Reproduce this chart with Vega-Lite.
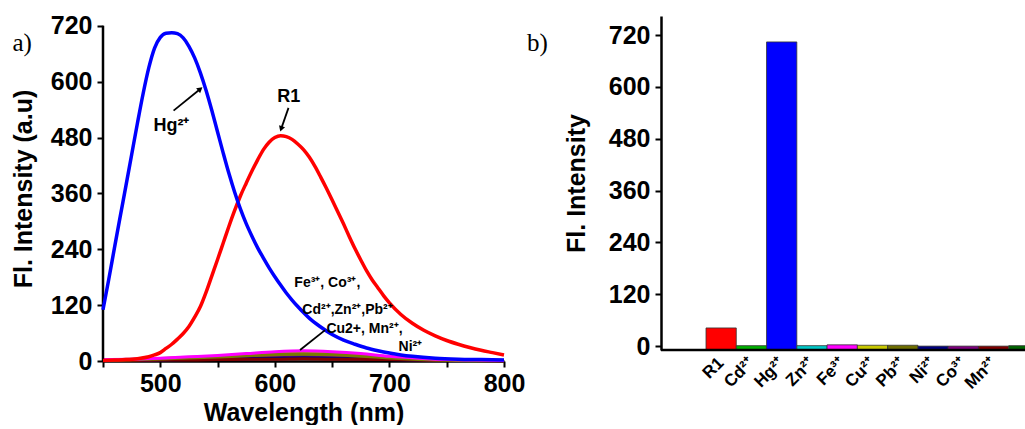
{
  "$schema": "https://vega.github.io/schema/vega-lite/v6.json",
  "background": "white",
  "padding": {"left": 11, "top": 13, "right": 0, "bottom": 0},
  "spacing": 16,
  "resolve": {"scale": {"color": "independent"}},
  "config": {
    "view": {"stroke": null},
    "font": "Liberation Sans",
    "axis": {
      "labelFont": "Liberation Sans", "titleFont": "Liberation Sans",
      "labelFontWeight": "bold", "titleFontWeight": "bold",
      "labelColor": "black", "titleColor": "black",
      "domainColor": "black", "domainWidth": 2.5,
      "tickColor": "black", "tickWidth": 2, "tickSize": 6,
      "grid": false, "labelOverlap": false, "labelFlush": false
    }
  },
  "datasets": {
    "hg": [
      {"nm":450,"v":110},{"nm":455,"v":175},{"nm":460,"v":243},{"nm":465,"v":310},{"nm":470,"v":376},{"nm":475,"v":443},{"nm":480,"v":510},{"nm":485,"v":574},{"nm":490,"v":630},{"nm":495,"v":672},{"nm":500,"v":695},{"nm":505,"v":704},{"nm":510,"v":705},{"nm":515,"v":703},{"nm":520,"v":694},{"nm":525,"v":676},{"nm":530,"v":651},{"nm":535,"v":619},{"nm":540,"v":581},{"nm":545,"v":538},{"nm":550,"v":492},{"nm":555,"v":446},{"nm":560,"v":402},{"nm":565,"v":362},{"nm":570,"v":326},{"nm":575,"v":295},{"nm":580,"v":268},{"nm":585,"v":243},{"nm":590,"v":221},{"nm":595,"v":200},{"nm":600,"v":181},{"nm":605,"v":163},{"nm":610,"v":146},{"nm":615,"v":131},{"nm":620,"v":117},{"nm":625,"v":104},{"nm":630,"v":92},{"nm":640,"v":73},{"nm":650,"v":57},{"nm":660,"v":45},{"nm":670,"v":36},{"nm":680,"v":28},{"nm":690,"v":22},{"nm":700,"v":17},{"nm":710,"v":13},{"nm":720,"v":10},{"nm":740,"v":6},{"nm":760,"v":4},{"nm":780,"v":3},{"nm":800,"v":2}
    ],
    "r1": [
      {"nm":450,"v":1},{"nm":460,"v":2},{"nm":470,"v":3},{"nm":480,"v":5},{"nm":490,"v":9},{"nm":495,"v":13},{"nm":500,"v":18},{"nm":505,"v":27},{"nm":510,"v":36},{"nm":515,"v":47},{"nm":520,"v":59},{"nm":525,"v":74},{"nm":530,"v":94},{"nm":535,"v":117},{"nm":540,"v":148},{"nm":545,"v":183},{"nm":550,"v":218},{"nm":555,"v":254},{"nm":560,"v":290},{"nm":565,"v":324},{"nm":570,"v":355},{"nm":575,"v":382},{"nm":580,"v":408},{"nm":585,"v":432},{"nm":590,"v":454},{"nm":595,"v":470},{"nm":600,"v":480},{"nm":605,"v":484},{"nm":610,"v":482},{"nm":615,"v":476},{"nm":620,"v":466},{"nm":625,"v":454},{"nm":630,"v":438},{"nm":635,"v":418},{"nm":640,"v":395},{"nm":645,"v":371},{"nm":650,"v":346},{"nm":655,"v":320},{"nm":660,"v":294},{"nm":665,"v":267},{"nm":670,"v":241},{"nm":675,"v":217},{"nm":680,"v":194},{"nm":685,"v":174},{"nm":690,"v":157},{"nm":695,"v":140},{"nm":700,"v":125},{"nm":710,"v":100},{"nm":720,"v":81},{"nm":730,"v":66},{"nm":740,"v":54},{"nm":750,"v":44},{"nm":760,"v":36},{"nm":770,"v":29},{"nm":780,"v":23},{"nm":790,"v":18},{"nm":800,"v":13}
    ],
    "fe": [
      {"nm":450,"v":3},{"nm":475,"v":4},{"nm":500,"v":6},{"nm":525,"v":9},{"nm":550,"v":12},{"nm":575,"v":16},{"nm":600,"v":20},{"nm":625,"v":22},{"nm":650,"v":20},{"nm":675,"v":16},{"nm":700,"v":10},{"nm":725,"v":6},{"nm":750,"v":3},{"nm":775,"v":2},{"nm":800,"v":1}
    ],
    "pb": [
      {"nm":450,"v":2},{"nm":475,"v":3},{"nm":500,"v":5},{"nm":525,"v":7},{"nm":550,"v":9},{"nm":575,"v":12},{"nm":600,"v":14},{"nm":625,"v":15},{"nm":650,"v":14},{"nm":675,"v":11},{"nm":700,"v":7},{"nm":725,"v":4},{"nm":750,"v":2},{"nm":775,"v":1},{"nm":800,"v":1}
    ],
    "others": [
      {"ion":"Cu","nm":450,"v":2},{"ion":"Cu","nm":475,"v":3},{"ion":"Cu","nm":500,"v":5},{"ion":"Cu","nm":525,"v":7},{"ion":"Cu","nm":550,"v":10},{"ion":"Cu","nm":575,"v":13},{"ion":"Cu","nm":600,"v":16},{"ion":"Cu","nm":625,"v":17},{"ion":"Cu","nm":650,"v":16},{"ion":"Cu","nm":675,"v":12},{"ion":"Cu","nm":700,"v":8},{"ion":"Cu","nm":725,"v":5},{"ion":"Cu","nm":750,"v":3},{"ion":"Cu","nm":775,"v":2},{"ion":"Cu","nm":800,"v":1},
      {"ion":"Zn","nm":450,"v":2},{"ion":"Zn","nm":475,"v":3},{"ion":"Zn","nm":500,"v":4},{"ion":"Zn","nm":525,"v":5},{"ion":"Zn","nm":550,"v":8},{"ion":"Zn","nm":575,"v":10},{"ion":"Zn","nm":600,"v":12},{"ion":"Zn","nm":625,"v":13},{"ion":"Zn","nm":650,"v":12},{"ion":"Zn","nm":675,"v":9},{"ion":"Zn","nm":700,"v":6},{"ion":"Zn","nm":725,"v":4},{"ion":"Zn","nm":750,"v":2},{"ion":"Zn","nm":775,"v":1},{"ion":"Zn","nm":800,"v":1},
      {"ion":"Cd","nm":450,"v":2},{"ion":"Cd","nm":475,"v":2},{"ion":"Cd","nm":500,"v":3},{"ion":"Cd","nm":525,"v":5},{"ion":"Cd","nm":550,"v":7},{"ion":"Cd","nm":575,"v":9},{"ion":"Cd","nm":600,"v":11},{"ion":"Cd","nm":625,"v":12},{"ion":"Cd","nm":650,"v":11},{"ion":"Cd","nm":675,"v":8},{"ion":"Cd","nm":700,"v":5},{"ion":"Cd","nm":725,"v":3},{"ion":"Cd","nm":750,"v":2},{"ion":"Cd","nm":775,"v":1},{"ion":"Cd","nm":800,"v":1},
      {"ion":"Co","nm":450,"v":1},{"ion":"Co","nm":475,"v":2},{"ion":"Co","nm":500,"v":3},{"ion":"Co","nm":525,"v":4},{"ion":"Co","nm":550,"v":5},{"ion":"Co","nm":575,"v":6},{"ion":"Co","nm":600,"v":8},{"ion":"Co","nm":625,"v":9},{"ion":"Co","nm":650,"v":8},{"ion":"Co","nm":675,"v":6},{"ion":"Co","nm":700,"v":4},{"ion":"Co","nm":725,"v":3},{"ion":"Co","nm":750,"v":2},{"ion":"Co","nm":775,"v":1},{"ion":"Co","nm":800,"v":0},
      {"ion":"Ni","nm":450,"v":1},{"ion":"Ni","nm":475,"v":1},{"ion":"Ni","nm":500,"v":2},{"ion":"Ni","nm":525,"v":3},{"ion":"Ni","nm":550,"v":4},{"ion":"Ni","nm":575,"v":5},{"ion":"Ni","nm":600,"v":6},{"ion":"Ni","nm":625,"v":7},{"ion":"Ni","nm":650,"v":6},{"ion":"Ni","nm":675,"v":5},{"ion":"Ni","nm":700,"v":3},{"ion":"Ni","nm":725,"v":2},{"ion":"Ni","nm":750,"v":1},{"ion":"Ni","nm":775,"v":1},{"ion":"Ni","nm":800,"v":0},
      {"ion":"Mn","nm":450,"v":1},{"ion":"Mn","nm":475,"v":1},{"ion":"Mn","nm":500,"v":2},{"ion":"Mn","nm":525,"v":2},{"ion":"Mn","nm":550,"v":3},{"ion":"Mn","nm":575,"v":4},{"ion":"Mn","nm":600,"v":4},{"ion":"Mn","nm":625,"v":5},{"ion":"Mn","nm":650,"v":4},{"ion":"Mn","nm":675,"v":4},{"ion":"Mn","nm":700,"v":3},{"ion":"Mn","nm":725,"v":2},{"ion":"Mn","nm":750,"v":1},{"ion":"Mn","nm":775,"v":1},{"ion":"Mn","nm":800,"v":0}
    ],
    "bigLabels": [
      {"label":"Hg²⁺","nm":494,"v":505},
      {"label":"R1","nm":602,"v":566}
    ],
    "ionLabels": [
      {"label":"Fe³⁺, Co³⁺,","nm":617,"v":167},
      {"label":"Cd²⁺,Zn²⁺,Pb²⁺","nm":624,"v":109},
      {"label":"Cu2+, Mn²⁺,","nm":645,"v":69},
      {"label":"Ni²⁺","nm":708,"v":29}
    ],
    "panelLabels": [
      {"label":"a)","nm":371,"v":683},
      {"label":"b)","nm":820,"v":683}
    ],
    "axisLine": [
      {"nm":450,"lo":0,"hi":720}
    ],
    "arrows": [
      {"id":"Hg","x1":511.6,"y1":537.8,"x2":534.9,"y2":584.3},
      {"id":"R1","x1":611.9,"y1":543.6,"x2":605.5,"y2":498.6},
      {"id":"ions","x1":643.8,"y1":66.4,"x2":622,"y2":23.6}
    ],
    "bars": [
      {"metal":"R1","fl":42},
      {"metal":"Cd²⁺","fl":1},
      {"metal":"Hg²⁺","fl":704},
      {"metal":"Zn²⁺","fl":1},
      {"metal":"Fe³⁺","fl":3},
      {"metal":"Cu²⁺","fl":2},
      {"metal":"Pb²⁺","fl":2},
      {"metal":"Ni²⁺","fl":0},
      {"metal":"Co³⁺","fl":0},
      {"metal":"Mn²⁺","fl":0},
      {"metal":"Other","fl":1}
    ]
  },
  "hconcat": [
    {
      "width": 401,
      "height": 345,
      "resolve": {"scale": {"color": "independent"}},
      "layer": [
        {
          "data": {"name": "others"},
          "mark": {"type": "line", "strokeWidth": 3, "interpolate": "monotone"},
          "encoding": {
            "x": {"field": "nm", "type": "quantitative",
              "scale": {"domain": [450, 800], "nice": false},
              "axis": {"values": [450,500,550,600,650,700,750,800],
                "labelExpr": "datum.value % 100 == 0 ? datum.label : ''",
                "title": "Wavelength (nm)", "titleFontSize": 25, "labelFontSize": 25,
                "labelPadding": 4, "titlePadding": 4}},
            "y": {"field": "v", "type": "quantitative",
              "scale": {"domain": [0, 741], "nice": false},
              "axis": {"values": [0,60,120,180,240,300,360,420,480,540,600,660,720],
                "labelExpr": "datum.value % 120 == 0 ? datum.label : ''",
                "domain": false,
                "title": "Fl. Intensity (a.u)", "titleFontSize": 25, "labelFontSize": 25,
                "labelPadding": 5, "titlePadding": 14}},
            "color": {"field": "ion", "type": "nominal", "legend": null,
              "scale": {"domain": ["Cu","Zn","Cd","Co","Ni","Mn"],
                "range": ["#c8c800","#00c8c8","#00b000","#800080","#000080","#800000"]}}
          }
        },
        {
          "data": {"name": "pb"},
          "mark": {"type": "line", "strokeWidth": 3.5, "color": "#7a7a00", "interpolate": "monotone"},
          "encoding": {
            "x": {"field": "nm", "type": "quantitative"},
            "y": {"field": "v", "type": "quantitative"}
          }
        },
        {
          "data": {"name": "fe"},
          "mark": {"type": "line", "strokeWidth": 3, "color": "#ff00ff", "interpolate": "monotone"},
          "encoding": {
            "x": {"field": "nm", "type": "quantitative"},
            "y": {"field": "v", "type": "quantitative"}
          }
        },
        {
          "data": {"name": "axisLine"},
          "mark": {"type": "rule", "strokeWidth": 2.5, "color": "black"},
          "encoding": {
            "x": {"field": "nm", "type": "quantitative"},
            "y": {"field": "lo", "type": "quantitative"},
            "y2": {"field": "hi"}
          }
        },
        {
          "data": {"name": "r1"},
          "mark": {"type": "line", "strokeWidth": 3.5, "color": "#ff0000", "interpolate": "monotone"},
          "encoding": {
            "x": {"field": "nm", "type": "quantitative"},
            "y": {"field": "v", "type": "quantitative"}
          }
        },
        {
          "data": {"name": "hg"},
          "mark": {"type": "line", "strokeWidth": 3.5, "color": "#0000ff", "interpolate": "monotone"},
          "encoding": {
            "x": {"field": "nm", "type": "quantitative"},
            "y": {"field": "v", "type": "quantitative"}
          }
        },
        {
          "data": {"name": "arrows"},
          "mark": {"type": "rule", "strokeWidth": 1.8, "color": "black"},
          "encoding": {
            "x": {"field": "x1", "type": "quantitative"},
            "y": {"field": "y1", "type": "quantitative"},
            "x2": {"field": "x2"},
            "y2": {"field": "y2"}
          }
        },
        {
          "data": {"name": "arrows"},
          "transform": [{"filter": "datum.id == 'Hg'"}],
          "mark": {"type": "point", "shape": "triangle-up", "filled": true, "color": "black", "size": 40, "angle": 51, "opacity": 1},
          "encoding": {
            "x": {"field": "x2", "type": "quantitative"},
            "y": {"field": "y2", "type": "quantitative"}
          }
        },
        {
          "data": {"name": "arrows"},
          "transform": [{"filter": "datum.id == 'R1'"}],
          "mark": {"type": "point", "shape": "triangle-up", "filled": true, "color": "black", "size": 40, "angle": 199, "opacity": 1},
          "encoding": {
            "x": {"field": "x2", "type": "quantitative"},
            "y": {"field": "y2", "type": "quantitative"}
          }
        },
        {
          "data": {"name": "bigLabels"},
          "mark": {"type": "text", "align": "left", "baseline": "middle", "fontSize": 18, "fontWeight": "bold", "font": "Liberation Sans", "color": "black"},
          "encoding": {
            "x": {"field": "nm", "type": "quantitative"},
            "y": {"field": "v", "type": "quantitative"},
            "text": {"field": "label"}
          }
        },
        {
          "data": {"name": "ionLabels"},
          "mark": {"type": "text", "align": "left", "baseline": "middle", "fontSize": 14, "fontWeight": "bold", "font": "Liberation Sans", "color": "black"},
          "encoding": {
            "x": {"field": "nm", "type": "quantitative"},
            "y": {"field": "v", "type": "quantitative"},
            "text": {"field": "label"}
          }
        },
        {
          "data": {"name": "panelLabels"},
          "mark": {"type": "text", "align": "left", "baseline": "middle", "fontSize": 25, "font": "Liberation Serif", "color": "black"},
          "encoding": {
            "x": {"field": "nm", "type": "quantitative"},
            "y": {"field": "v", "type": "quantitative"},
            "text": {"field": "label"}
          }
        }
      ]
    },
    {
      "width": 366,
      "height": 334,
      "layer": [
        {
          "data": {"name": "bars"},
          "mark": {"type": "bar", "clip": true, "stroke": "#333333", "strokeWidth": 0.8},
          "encoding": {
            "x": {"field": "metal", "type": "nominal", "sort": null,
              "scale": {"range": [45, 378], "paddingInner": 0, "paddingOuter": 0},
              "axis": {"title": null, "domain": false, "ticks": false, "labelAngle": -45,
                "labelAlign": "right", "labelBaseline": "middle", "labelFontSize": 17,
                "labelPadding": 10,
                "labelExpr": "datum.value == 'Other' ? '' : datum.label"}},
            "y": {"field": "fl", "type": "quantitative",
              "scale": {"domain": [-9, 764], "nice": false, "zero": false},
              "axis": {"values": [0,60,120,180,240,300,360,420,480,540,600,660,720],
                "labelExpr": "datum.value % 120 == 0 ? datum.label : ''",
                "title": "Fl. Intensity", "titleFontSize": 25, "labelFontSize": 25,
                "labelPadding": 5, "titlePadding": 19}},
            "y2": {"datum": -9},
            "color": {"field": "metal", "type": "nominal", "legend": null, "sort": null,
              "scale": {"domain": ["R1","Cd²⁺","Hg²⁺","Zn²⁺","Fe³⁺","Cu²⁺","Pb²⁺","Ni²⁺","Co³⁺","Mn²⁺","Other"],
                "range": ["#ff0000","#00b000","#0000ff","#00c8c8","#ff00ff","#c8c800","#6e6e00","#000080","#800080","#800000","#006400"]}}
          }
        },
        {
          "data": {"values": [{}]},
          "mark": {"type": "rule", "strokeWidth": 2.5, "color": "black"},
          "encoding": {"y": {"datum": -9}}
        }
      ]
    }
  ]
}
